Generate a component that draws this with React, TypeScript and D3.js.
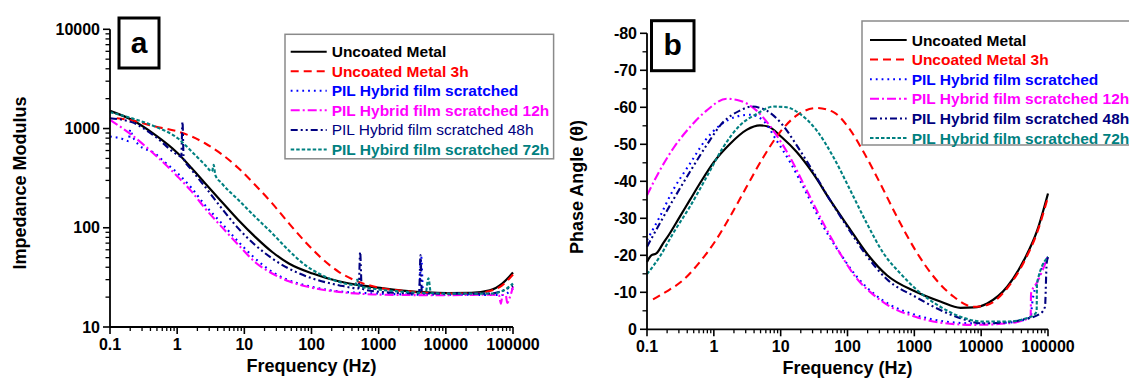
import React from "react";
import * as d3 from "d3";

type Pt = [number, number];

const FONT = "'Liberation Sans', Arial, Helvetica, sans-serif";

const NAMES_A = [
  "Uncoated Metal",
  "Uncoated Metal 3h",
  "PIL Hybrid film scratched",
  "PIL Hybrid film scratched 12h",
  "PIL Hybrid film scratched 48h",
  "PIL Hybird film scratched 72h",
];
const NAMES_B = [
  "Uncoated Metal",
  "Uncoated Metal 3h",
  "PIL Hybrid film scratched",
  "PIL Hybrid film scratched 12h",
  "PIL Hybrid film scratched 48h",
  "PIL Hybrid film scratched 72h",
];
const BOLD_A = [true, true, true, true, false, true];
const BOLD_B = [true, true, true, true, true, true];
const COLORS = ["#000000", "#ff0000", "#0000ff", "#ff00ff", "#000080", "#008080"];
const DASHES = ["", "8,5", "1.8,4", "9,3,2,3", "7,3,2,3,2,3", "3.5,2"];

const X_TICKS = [0.1, 1, 10, 100, 1000, 10000, 100000];
const X_TICK_LABELS = ["0.1", "1", "10", "100", "1000", "10000", "100000"];
const Y_TICKS_A = [10, 100, 1000, 10000];
const Y_TICK_LABELS_A = ["10", "100", "1000", "10000"];
const Y_TICKS_B = [0, -10, -20, -30, -40, -50, -60, -70, -80];
const Y_TICK_LABELS_B = ["0", "-10", "-20", "-30", "-40", "-50", "-60", "-70", "-80"];

// ---------- Panel a: impedance modulus [frequency Hz, |Z|] ----------
const A_UNCOATED: Pt[] = [
  [0.1, 1507], [0.21, 1225], [0.47, 863], [1.02, 564], [1.65, 398], [2.6, 281],
  [4.6, 183], [8.2, 119], [14.5, 81], [26, 57], [46, 43.7], [104, 34.6],
  [254, 28.9], [505, 26.4], [1050, 24.8], [2500, 23.1], [10500, 22.0],
  [24000, 22.1], [45000, 23.4], [69000, 27.4], [100000, 35.4],
];
const A_UNCOATED_3H: Pt[] = [
  [0.126, 1270], [0.21, 1210], [0.47, 1047], [1.02, 933], [1.65, 830], [2.6, 711],
  [4.6, 551], [8.2, 398], [14.5, 270], [26, 176], [46, 111], [81, 72], [143, 49],
  [254, 36], [505, 28.5], [1050, 24.8], [2500, 23], [10500, 21.7], [24000, 21.7],
  [45000, 23], [69000, 26.3], [100000, 33.8],
];
const A_SCRATCHED: Pt[] = [
  [0.1, 830], [0.15, 790], [0.19, 745], [0.2, 980], [0.215, 850], [0.265, 690],
  [0.47, 560], [0.625, 470], [1.02, 354], [1.65, 250], [2.6, 169], [4.6, 111],
  [8.2, 72], [14.5, 49], [26, 36], [46, 29.6], [104, 25.3], [254, 22.9],
  [1050, 21.7], [4000, 21.2], [4300, 51], [4600, 21.2], [10500, 21.2],
  [69000, 21], [100000, 24.4],
];
const A_SCRATCHED_12H: Pt[] = [
  [0.1, 1225], [0.21, 863], [0.47, 542], [1.02, 327], [1.65, 231], [2.6, 157],
  [4.6, 102], [8.2, 67], [14.5, 45], [26, 34.6], [46, 28.9], [104, 24.8],
  [254, 22.6], [1050, 21.2], [10500, 20.9], [45000, 21.2], [62000, 20.8],
  [66000, 17.2], [70000, 21], [78000, 21], [82000, 17.5], [90000, 20],
  [100000, 25.4],
];
const A_SCRATCHED_48H: Pt[] = [
  [0.1, 1270], [0.21, 1160], [0.47, 830], [1.02, 542], [1.15, 520], [1.2, 1170],
  [1.25, 500], [1.65, 382], [2.6, 259], [4.6, 157], [8.2, 98], [14.5, 67],
  [26, 49], [46, 38.8], [104, 30.8], [254, 26.4], [505, 24.5], [530, 57],
  [560, 24.3], [1050, 22.6], [4000, 21.8], [4200, 53], [4400, 21.8],
  [10500, 21.7], [45000, 21.7], [100000, 26],
];
const A_SCRATCHED_72H: Pt[] = [
  [0.1, 1462], [0.21, 1270], [0.47, 1047], [1.02, 798], [1.65, 586], [2.6, 430],
  [3.3, 370], [3.5, 430], [3.7, 340], [4.6, 281], [8.2, 190], [14.5, 129],
  [26, 88], [46, 59], [81, 42], [143, 33.3], [254, 28.5], [450, 26.5],
  [480, 30], [505, 26], [1050, 23.8], [2500, 22.6], [5000, 22], [5500, 31],
  [6000, 22], [10500, 21.7], [45000, 21.7], [69000, 23], [100000, 27.4],
];

// ---------- Panel b: phase angle [frequency Hz, theta] ----------
const B_UNCOATED: Pt[] = [
  [0.1, -18.2], [0.116, -20.0], [0.138, -20.5], [0.174, -23.2], [0.219, -25.9],
  [0.309, -30.4], [0.437, -34.9], [0.617, -39.4], [1.0, -45.2], [1.74, -50.1],
  [3.09, -53.9], [4.9, -55.1], [6.5, -54.8], [10.4, -51.9], [17.4, -47.9],
  [30.9, -42.0], [55, -34.9], [103, -27.7], [195, -20.5], [389, -14.6],
  [1035, -10.2], [2450, -7.5], [4900, -5.8], [7760, -5.9], [12300, -7.0],
  [24500, -11.5], [43700, -18.7], [69200, -26.8], [100000, -36.7],
];
const B_UNCOATED_3H: Pt[] = [
  [0.123, -8.1], [0.195, -10.2], [0.347, -13.3], [0.617, -18.2], [1.03, -23.6],
  [1.74, -30.4], [3.09, -38.5], [5.5, -46.5], [9.8, -53.3], [17.4, -57.8],
  [34.7, -59.8], [61.7, -58.7], [103, -54.6], [174, -47.9], [309, -39.4],
  [550, -30.4], [1035, -21.4], [1950, -14.2], [3890, -8.8], [7760, -6.1],
  [12300, -6.6], [24500, -11.1], [43700, -18.2], [69200, -26.3], [100000, -35.8],
];
const B_SCRATCHED: Pt[] = [
  [0.1, -24.1], [0.155, -30.4], [0.245, -37.6], [0.437, -44.7], [0.776, -51.5],
  [1.23, -55.1], [2.19, -57.5], [3.47, -58], [5.5, -56.4], [8.71, -51],
  [13.8, -45.2], [24.5, -36.7], [43.7, -27.7], [77.6, -20.5], [138, -14.2],
  [245, -9.7], [437, -6.6], [1035, -3.9], [2450, -2.3], [7760, -1.6],
  [24500, -1.8], [55000, -3.2], [58000, -7], [69200, -12.8], [100000, -19.6],
];
const B_SCRATCHED_12H: Pt[] = [
  [0.1, -36.2], [0.155, -42.9], [0.245, -48.8], [0.437, -54.6], [0.776, -59.1],
  [1.55, -62.3], [2.45, -61.8], [4.37, -59.1], [7.76, -53.7], [13.8, -46.5],
  [24.5, -37.6], [43.7, -28.6], [77.6, -20.5], [138, -13.7], [245, -9.3],
  [437, -6.1], [1035, -3.4], [2450, -1.8], [7760, -1.2], [24500, -1.6],
  [43700, -2.5], [55000, -3.4], [55800, -9.7], [69200, -12.8], [100000, -19.6],
];
const B_SCRATCHED_48H: Pt[] = [
  [0.1, -22.3], [0.155, -28.6], [0.245, -34.9], [0.437, -42.5], [0.776, -49.7],
  [1.38, -56], [2.45, -59.1], [3.67, -60.2], [6.17, -59.1], [10.4, -55.5],
  [17.4, -49.7], [30.9, -42.5], [55, -34.9], [103, -27.2], [195, -19.8],
  [389, -13.5], [1035, -8.8], [2450, -5.2], [4900, -3], [10350, -1.6],
  [24500, -1.9], [43700, -2.7], [77600, -4.3], [90200, -6.1], [95500, -17.8],
  [100000, -19.6],
];
const B_SCRATCHED_72H: Pt[] = [
  [0.1, -14.9], [0.155, -19.6], [0.245, -25.9], [0.437, -33.1], [0.776, -41.1],
  [1.38, -49.2], [2.45, -55.1], [4.37, -58.2], [7.76, -60.2], [12.3, -60],
  [19.5, -58.2], [34.7, -53.7], [61.7, -46.5], [110, -37.6], [195, -28.6],
  [347, -20.5], [617, -15.1], [1100, -10.6], [2450, -6.1], [4900, -3.4],
  [10350, -2.1], [24500, -2.1], [55000, -3.4], [67600, -4.8], [68500, -12.4],
  [100000, -19.6],
];

const SERIES_A = [A_UNCOATED, A_UNCOATED_3H, A_SCRATCHED, A_SCRATCHED_12H, A_SCRATCHED_48H, A_SCRATCHED_72H];
const SERIES_B = [B_UNCOATED, B_UNCOATED_3H, B_SCRATCHED, B_SCRATCHED_12H, B_SCRATCHED_48H, B_SCRATCHED_72H];

type PanelProps = {
  x: d3.ScaleLogarithmic<number, number>;
  y: any;
  yTicks: number[];
  yTickLabels: string[];
  yMinor: number[];
  series: Pt[][];
  names: string[];
  bold: boolean[];
  xTitleY: number;
  yTitle: string;
  yTitleX: number;
  yTitleY: number;
  letter: string;
  letterBox: [number, number, number, number];
  legendBox: [number, number, number, number];
  legendRow0: number;
  legendStep: number;
  legendLineX: [number, number];
};

function Panel(p: PanelProps) {
  const [x0, x1] = p.x.range();
  const yb = p.y.range()[0];
  const yt = p.y.range()[1];
  const xMinor: number[] = [];
  for (let e = -1; e < 5; e++) {
    for (let k = 2; k <= 9; k++) xMinor.push(k * Math.pow(10, e));
  }
  const line = d3
    .line<Pt>()
    .x((d) => p.x(d[0]))
    .y((d) => p.y(d[1]))
    .curve(d3.curveMonotoneX);
  const [lx, ly, lw, lh] = p.legendBox;
  const [bx, by, bw, bh] = p.letterBox;
  return (
    <g>
      {p.series.map((s, i) => (
        <path
          key={i}
          d={line(s) || ""}
          fill="none"
          stroke={COLORS[i]}
          strokeWidth={i === 0 ? 2.2 : 2.1}
          strokeDasharray={DASHES[i] || undefined}
        />
      ))}
      {/* axes */}
      <line x1={x0} x2={x1} y1={yb} y2={yb} stroke="#000" strokeWidth={1.8} />
      <line x1={x0} x2={x0} y1={yt} y2={yb} stroke="#000" strokeWidth={1.8} />
      {xMinor.map((t, i) => (
        <line key={"xm" + i} x1={p.x(t)} x2={p.x(t)} y1={yb} y2={yb + 4} stroke="#000" strokeWidth={1.3} />
      ))}
      {X_TICKS.map((t, i) => (
        <g key={"xt" + i}>
          <line x1={p.x(t)} x2={p.x(t)} y1={yb} y2={yb + 7} stroke="#000" strokeWidth={1.6} />
          <text x={p.x(t)} y={yb + 23} textAnchor="middle" fontSize={16} fontWeight="bold" fill="#000">
            {X_TICK_LABELS[i]}
          </text>
        </g>
      ))}
      {p.yMinor.map((t, i) => (
        <line key={"ym" + i} x1={x0 - 4.5} x2={x0} y1={p.y(t)} y2={p.y(t)} stroke="#000" strokeWidth={1.3} />
      ))}
      {p.yTicks.map((t, i) => (
        <g key={"yt" + i}>
          <line x1={x0 - 7} x2={x0} y1={p.y(t)} y2={p.y(t)} stroke="#000" strokeWidth={1.6} />
          <text x={x0 - 10} y={p.y(t) + 5.5} textAnchor="end" fontSize={16} fontWeight="bold" fill="#000">
            {p.yTickLabels[i]}
          </text>
        </g>
      ))}
      <text x={(x0 + x1) / 2} y={p.xTitleY} textAnchor="middle" fontSize={18} fontWeight="bold" fill="#000">
        Frequency (Hz)
      </text>
      <text
        transform={`translate(${p.yTitleX},${p.yTitleY}) rotate(-90)`}
        textAnchor="middle"
        fontSize={18}
        fontWeight="bold"
        fill="#000"
      >
        {p.yTitle}
      </text>
      {/* letter box */}
      <rect x={bx} y={by} width={bw} height={bh} fill="#fff" stroke="#000" strokeWidth={3} />
      <text x={bx + bw / 2} y={by + bh / 2 + 9.5} textAnchor="middle" fontSize={30} fontWeight="bold" fill="#000">
        {p.letter}
      </text>
      {/* legend */}
      <rect x={lx} y={ly} width={lw} height={lh} fill="#fff" stroke="#8a8a8a" strokeWidth={1.5} />
      {p.names.map((n, i) => {
        const cy = p.legendRow0 + i * p.legendStep;
        return (
          <g key={"lg" + i}>
            <line
              x1={p.legendLineX[0]}
              x2={p.legendLineX[1]}
              y1={cy}
              y2={cy}
              stroke={COLORS[i]}
              strokeWidth={2}
              strokeDasharray={DASHES[i] || undefined}
            />
            <text
              x={p.legendLineX[1] + 5}
              y={cy + 5.5}
              fontSize={15.5}
              fontWeight={p.bold[i] ? "bold" : "normal"}
              fill={COLORS[i]}
            >
              {n}
            </text>
          </g>
        );
      })}
    </g>
  );
}

export default function App() {
  const xA = d3.scaleLog().domain([0.1, 100000]).range([110, 513]);
  const yA = d3.scaleLog().domain([10, 10000]).range([327, 29.3]);
  const xB = d3.scaleLog().domain([0.1, 100000]).range([647, 1048]);
  const yB = d3.scaleLinear().domain([0, -80]).range([329.3, 33.3]);

  const yMinorA: number[] = [];
  for (let e = 1; e < 4; e++) for (let k = 2; k <= 9; k++) yMinorA.push(k * Math.pow(10, e));
  const yMinorB: number[] = [];
  for (let v = -5; v > -80; v -= 10) yMinorB.push(v);

  return (
    <svg
      width={1129}
      height={385}
      style={{ position: "fixed", left: 0, top: 0 }}
      fontFamily={FONT}
    >
      <rect x={0} y={0} width={1129} height={385} fill="#fff" />
      <Panel
        x={xA}
        y={yA}
        yTicks={Y_TICKS_A}
        yTickLabels={Y_TICK_LABELS_A}
        yMinor={yMinorA}
        series={SERIES_A}
        names={NAMES_A}
        bold={BOLD_A}
        xTitleY={372}
        yTitle="Impedance Modulus"
        yTitleX={26}
        yTitleY={183}
        letter="a"
        letterBox={[119, 18, 40, 50]}
        legendBox={[285, 34.3, 268.6, 124.5]}
        legendRow0={51.7}
        legendStep={19.55}
        legendLineX={[290.7, 326.7]}
      />
      <Panel
        x={xB}
        y={yB}
        yTicks={Y_TICKS_B}
        yTickLabels={Y_TICK_LABELS_B}
        yMinor={yMinorB}
        series={SERIES_B}
        names={NAMES_B}
        bold={BOLD_B}
        xTitleY={374}
        yTitle="Phase Angle (θ)"
        yTitleX={583}
        yTitleY={187}
        letter="b"
        letterBox={[651.5, 20.7, 42.5, 50]}
        legendBox={[862, 21, 280, 124]}
        legendRow0={40}
        legendStep={19.6}
        legendLineX={[870, 906.7]}
      />
    </svg>
  );
}
